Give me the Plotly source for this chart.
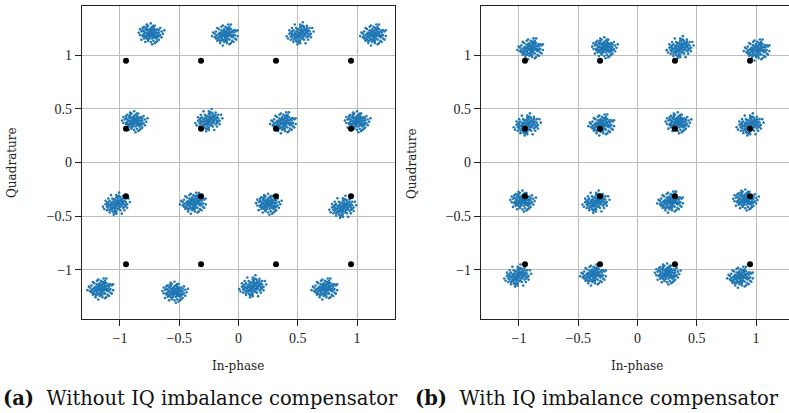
import plotly.graph_objects as go

# Reference 16-QAM constellation points (black)
ref_levels = [-0.949, -0.316, 0.316, 0.949]

# Estimated cluster centres, panel (a): without compensator (row by row, top to bottom)
a_cx = [-0.74, -0.11, 0.52, 1.14,
        -0.88, -0.25, 0.38, 1.00,
        -1.03, -0.38, 0.25, 0.88,
        -1.16, -0.54, 0.12, 0.73]
a_cy = [1.20, 1.19, 1.20, 1.19,
        0.38, 0.39, 0.37, 0.38,
        -0.39, -0.38, -0.39, -0.42,
        -1.18, -1.21, -1.16, -1.18]
a_pat = [0, 1, 2, 1, 0, 2, 1, 0, 2, 1, 0, 2, 1, 0, 2, 1]

# Estimated cluster centres, panel (b): with compensator
b_cx = [-0.90, -0.28, 0.36, 1.01,
        -0.93, -0.30, 0.34, 0.95,
        -0.97, -0.35, 0.28, 0.91,
        -1.01, -0.37, 0.25, 0.87]
b_cy = [1.06, 1.07, 1.07, 1.05,
        0.35, 0.35, 0.37, 0.35,
        -0.36, -0.37, -0.37, -0.35,
        -1.06, -1.05, -1.04, -1.07]
b_pat = [1, 0, 2, 1, 2, 1, 0, 2, 0, 2, 1, 0, 2, 1, 0, 1]

# Hand-estimated scatter shapes of a received cluster (offsets in 0.01 units)
pat0 = [(0,0),(1,2),(-2,1),(3,-1),(-1,-3),(2,4),(-4,-2),(4,1),(-3,3),(1,-4),(5,-3),(-5,0),(0,5),(2,-2),(-2,-1),
        (3,3),(-1,4),(4,-4),(-4,4),(6,1),(-6,-2),(1,6),(-2,-5),(5,4),(-5,-4),(7,-1),(-7,2),(2,-6),(-3,6),(6,-5),
        (-6,5),(0,-7),(3,7),(8,2),(-8,-1),(4,-7),(-4,-7),(1,1),(-1,-1),(2,0),(0,-2),(-3,-2),(1,-1),(-1,2),(3,1),
        (0,3),(-3,0),(2,2),(-2,3),(4,-2),(-4,1),(1,3),(-1,-4),(3,-3),(-3,-4),(5,1),(-5,2),(2,5),(-2,-6),(6,3),
        (-6,-1),(9,0),(-9,1),(0,9),(1,-9),(7,5),(-7,-5),(5,-6),(-5,6),(8,-3),(-8,4),(3,-8),(-3,8),(0,1),(1,0),
        (-1,0),(0,-1),(2,-3),(-2,-2),(3,4),(-4,-3),(4,3),(-3,5),(5,-1),(-5,-2),(6,-2),(-6,3),(2,7),(-2,7),(10,3)]
pat1 = [(1,1),(-1,2),(2,-1),(-2,-1),(0,3),(3,0),(-3,1),(1,-3),(4,2),(-4,-1),(2,4),(-2,-4),(5,0),(-5,1),(0,-5),
        (3,-4),(-3,4),(6,2),(-6,-3),(2,6),(-1,-6),(4,5),(-4,-5),(7,0),(-7,-1),(0,7),(1,-7),(5,-5),(-5,5),(8,3),
        (-8,-2),(3,-8),(-2,8),(6,-6),(-6,6),(9,-1),(-9,2),(0,0),(1,-1),(-1,-1),(2,1),(-2,2),(0,-2),(1,2),(-1,0),
        (3,2),(-3,-2),(2,-3),(-2,3),(4,-1),(-4,2),(1,4),(-1,-4),(3,3),(-3,-3),(5,3),(-5,-2),(3,5),(-3,-5),(6,-1),
        (-6,0),(1,6),(-1,5),(7,4),(-7,3),(4,-7),(-4,-7),(8,-4),(-8,1),(2,9),(-2,-9),(0,2),(2,0),(-2,0),(0,-3),
        (4,0),(-4,0),(1,-5),(-1,4),(5,-2),(-5,-4),(6,4),(-6,-5),(3,7),(-3,7),(7,-3),(-7,-3),(9,4),(-10,-1),(4,9)]
pat2 = [(0,1),(1,-1),(-1,1),(2,2),(-2,-2),(1,3),(-1,-3),(3,-2),(-3,2),(4,3),(-4,-3),(2,-4),(-2,4),(5,1),(-5,-1),
        (1,5),(-1,-5),(6,-2),(-6,2),(3,6),(-3,-6),(5,5),(-5,-5),(7,2),(-7,-2),(2,7),(-2,-7),(6,-5),(-6,5),(8,0),
        (-8,0),(0,8),(0,-8),(9,5),(-9,-4),(4,-8),(-4,8),(1,0),(-1,0),(0,-1),(2,1),(-2,-1),(1,2),(-1,-2),(3,0),
        (-3,0),(0,3),(0,-3),(3,3),(-3,-3),(2,-2),(-2,2),(4,-1),(-4,1),(1,-4),(-1,4),(4,1),(-4,-1),(5,-3),(-5,3),
        (3,-5),(-3,5),(6,3),(-6,-3),(3,4),(-3,-4),(7,-1),(-7,1),(1,7),(-1,-7),(7,5),(-7,-5),(5,7),(-5,-7),(8,-3),
        (-8,3),(10,2),(-10,-2),(2,10),(-2,-9),(2,3),(-2,-3),(4,4),(-4,-4),(6,0),(-6,0),(0,6),(0,-6),(5,2),(-6,-1)]
patterns = [pat0, pat1, pat2]


def cloud(cx, cy, pats):
    xs, ys = [], []
    for x0, y0, p in zip(cx, cy, pats):
        for dx, dy in patterns[p]:
            xs.append(x0 + dx / 88)
            ys.append(y0 + dy / 92)
    return xs, ys


ref_x = [x for _ in ref_levels for x in ref_levels]
ref_y = [y for y in ref_levels for _ in ref_levels]

W, H = 789, 413
fig = go.Figure()

BLUE = "#1f77b4"
for k, (cx, cy, pats) in enumerate([(a_cx, a_cy, a_pat), (b_cx, b_cy, b_pat)]):
    xs, ys = cloud(cx, cy, pats)
    ax = "" if k == 0 else "2"
    fig.add_trace(go.Scatter(x=xs, y=ys, mode="markers", xaxis="x" + ax, yaxis="y" + ax,
                             marker=dict(size=2.6, color=BLUE, line=dict(width=0)), showlegend=False))
    fig.add_trace(go.Scatter(x=ref_x, y=ref_y, mode="markers", xaxis="x" + ax, yaxis="y" + ax,
                             marker=dict(size=6, color="black", line=dict(width=0)), showlegend=False))

tick_font = dict(family="Liberation Serif", size=14, color="#222")
x_ticks = [-1, -0.5, 0, 0.5, 1]
x_ticktext = ["−1", "−0.5", "0", "0.5", "1"]
y_ticks = [-1, -0.5, 0, 0.5, 1]
y_ticktext = ["−1", "−0.5", "0", "0.5", "1"]

common = dict(showgrid=True, gridcolor="#bdbdbd", gridwidth=1, zeroline=False,
              showline=True, linecolor="#222", linewidth=1.2, ticks="outside", ticklen=6,
              tickcolor="#222", tickwidth=1, tickfont=tick_font)

y0 = 1 - 319 / H
y1 = 1 - 6 / H
fig.update_layout(
    width=W, height=H, margin=dict(l=0, r=0, t=0, b=0),
    paper_bgcolor="white", plot_bgcolor="white",
    xaxis=dict(domain=[82 / W, 395 / W], range=[-1.32, 1.32], tickvals=x_ticks, ticktext=x_ticktext,
               mirror=True, anchor="y", **common),
    yaxis=dict(domain=[y0, y1], range=[-1.46, 1.46], tickvals=y_ticks, ticktext=y_ticktext,
               mirror=True, anchor="x", **common),
    xaxis2=dict(domain=[481 / W, 1.0], range=[-1.32, 1.278], tickvals=x_ticks, ticktext=x_ticktext,
                mirror=True, anchor="y2", **common),
    yaxis2=dict(domain=[y0, y1], range=[-1.46, 1.46], tickvals=y_ticks, ticktext=y_ticktext,
                mirror=False, anchor="x2", **common),
)

title_font = dict(family="DejaVu Serif", size=12, color="#222")
cap_font = dict(family="DejaVu Serif", size=19.5, color="#111")
ann = [
    dict(x=238 / W, y=1 - 366 / H, text="In-phase", font=title_font),
    dict(x=637 / W, y=1 - 366 / H, text="In-phase", font=title_font),
    dict(x=12 / W, y=1 - 163 / H, text="Quadrature", font=title_font, textangle=-90),
    dict(x=412 / W, y=1 - 163 / H, text="Quadrature", font=title_font, textangle=-90),
    dict(x=200 / W, y=1 - 398 / H, text="<b>(a)</b>  Without IQ imbalance compensator", font=cap_font),
    dict(x=597 / W, y=1 - 398 / H, text="<b>(b)</b>  With IQ imbalance compensator", font=cap_font),
]
for a in ann:
    fig.add_annotation(xref="paper", yref="paper", showarrow=False, xanchor="center", yanchor="middle", **a)

fig.write_html("out.html", config={"displayModeBar": False},
               post_script="document.body.style.margin='0';document.body.style.overflow='hidden';")
